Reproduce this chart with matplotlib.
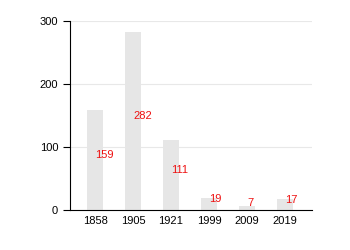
import numpy as np
import matplotlib.pyplot as plt

plt.rcParams['font.family'] = ['Liberation Sans', 'DejaVu Sans']

# Datos
years = ['1858', '1905', '1921', '1999', '2009', '2019']
values = [159, 282, 111, 19, 7, 17]

fig = plt.figure(figsize=(3.5, 2.5), dpi=100)
ax = fig.add_axes([0.2, 0.16, 0.691, 0.756])

x = np.arange(len(years))
ax.bar(x, values, width=0.42, color='#e6e6e6', zorder=2)

# Etiquetas rojas
for xi, v in zip(x, values):
    ax.text(xi, v / 2, str(v), color='#ee1111', fontsize=8,
            ha='left', va='bottom', zorder=3)

ax.set_xticks(x)
ax.set_xticklabels(years)
ax.set_yticks([0, 100, 200, 300])
ax.set_ylim(0, 300)
ax.set_xlim(-0.66, 5.71)

ax.yaxis.grid(True, color='#e8e8e8', linewidth=0.8, zorder=0)
ax.spines['top'].set_visible(False)
ax.spines['right'].set_visible(False)
ax.tick_params(axis='x', length=0, labelsize=8, pad=4)
ax.tick_params(axis='y', length=5, labelsize=8)

fig.savefig('out.png', dpi=100)
